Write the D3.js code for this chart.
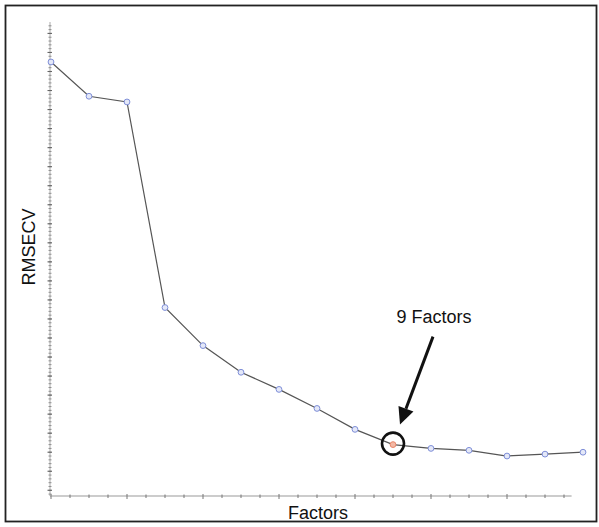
<!DOCTYPE html>
<html>
<head>
<meta charset="utf-8">
<script src="https://cdn.jsdelivr.net/npm/d3@7"></script>
<style>
  html, body { margin: 0; padding: 0; background: #fff; }
  svg { display: block; }
  text { font-family: "Liberation Sans", Arial, sans-serif; fill: #111; }
</style>
</head>
<body>
<svg id="chart" width="599" height="527"></svg>
<script>
// Number of PLS factors and the cross-validated error for each model size
const factors = [0, 1, 2, 3, 4, 5, 6, 7, 8, 9, 10, 11, 12, 13, 14];
const rmsecv = [2.85, 2.67, 2.64, 1.56, 1.36, 1.22, 1.13, 1.03, 0.92, 0.84, 0.82, 0.81, 0.78, 0.79, 0.80];
const chosenFactors = [9];
const xLabel = ["Factors"];
const yLabel = ["RMSECV"];
const calloutText = ["9 Factors"];

const svg = d3.select("#chart");

// outer frame
svg.append("rect")
  .attr("x", 5.5).attr("y", 5.5)
  .attr("width", 591).attr("height", 516)
  .attr("fill", "none").attr("stroke", "#222").attr("stroke-width", 1.8);

const x = d3.scaleLinear().domain([0, 14]).range([51, 583]);
const y = d3.scaleLinear().domain([0.57, 3.06]).range([496, 22]);

// x axis (line stops a little short of the last factor)
const xAxisScale = x.copy().domain([0, 13.7]).range([x(0), x(13.7)]);
const xMinor = d3.range(0, 13.6, 0.5);
const gx = svg.append("g").attr("transform", `translate(0,${y.range()[0]})`);
gx.append("line")
  .attr("x1", x(0) - 1).attr("x2", x(13.7))
  .attr("stroke", "#999").attr("stroke-width", 1.2);
gx.selectAll("line.tick").data(xMinor).join("line")
  .attr("class", "tick")
  .attr("x1", d => xAxisScale(d)).attr("x2", d => xAxisScale(d))
  .attr("y1", d => (d % 2 === 0 ? -2 : -1.5))
  .attr("y2", d => (d % 2 === 0 ? 3 : 2))
  .attr("stroke", "#777").attr("stroke-width", 1);

// y axis with dense minor ticks
const yMajor = d3.range(0.6, 3.05, 0.1);
const yMinor = d3.range(0.58, 3.05, 0.02);
const gy = svg.append("g").attr("transform", `translate(${x(0) - 1},0)`);
gy.append("line")
  .attr("y1", y.range()[0]).attr("y2", y.range()[1])
  .attr("stroke", "#aaa").attr("stroke-width", 1);
gy.selectAll("line.minor").data(yMinor).join("line")
  .attr("class", "minor")
  .attr("y1", d => y(d)).attr("y2", d => y(d))
  .attr("x1", -1.5).attr("x2", 1.5)
  .attr("stroke", "#888").attr("stroke-width", 0.9);
gy.selectAll("line.major").data(yMajor).join("line")
  .attr("class", "major")
  .attr("y1", d => y(d)).attr("y2", d => y(d))
  .attr("x1", -2.5).attr("x2", 2)
  .attr("stroke", "#666").attr("stroke-width", 1.1);

// error curve
const pts = factors.map((f, i) => ({ f, v: rmsecv[i] }));
svg.append("path")
  .datum(pts)
  .attr("d", d3.line().x(d => x(d.f)).y(d => y(d.v)))
  .attr("fill", "none").attr("stroke", "#555").attr("stroke-width", 1.2);

svg.selectAll("circle.pt").data(pts).join("circle")
  .attr("class", "pt")
  .attr("cx", d => x(d.f)).attr("cy", d => y(d.v))
  .attr("r", 2.9)
  .attr("fill", d => chosenFactors.includes(d.f) ? "#f3b8a4" : "#e4e8f8")
  .attr("stroke", d => chosenFactors.includes(d.f) ? "#e8866a" : "#7f8fd8")
  .attr("stroke-width", 1);

// highlight ring and arrow pointing at the chosen model
const sel = pts.find(d => d.f === chosenFactors[0]);
const cx = x(sel.f), cy = y(sel.v);
svg.append("circle")
  .attr("cx", cx).attr("cy", cy - 1).attr("r", 11)
  .attr("fill", "none").attr("stroke", "#111").attr("stroke-width", 2.6);

const tip = [cx + 7, cy - 20];
const tail = [cx + 40, cy - 108];
const ang = Math.atan2(tip[1] - tail[1], tip[0] - tail[0]);
const headLen = 17, headHalf = 8;
const base = [tip[0] - headLen * Math.cos(ang), tip[1] - headLen * Math.sin(ang)];
svg.append("line")
  .attr("x1", tail[0]).attr("y1", tail[1])
  .attr("x2", base[0]).attr("y2", base[1])
  .attr("stroke", "#111").attr("stroke-width", 3);
svg.append("polygon")
  .attr("points", [
    tip,
    [base[0] + headHalf * Math.sin(ang), base[1] - headHalf * Math.cos(ang)],
    [base[0] - headHalf * Math.sin(ang), base[1] + headHalf * Math.cos(ang)]
  ].map(p => p.join(",")).join(" "))
  .attr("fill", "#111");

svg.append("text")
  .attr("x", cx + 41).attr("y", cy - 122)
  .attr("text-anchor", "middle")
  .attr("font-size", 18)
  .text(calloutText[0]);

// axis titles
svg.append("text")
  .attr("x", 318).attr("y", 519)
  .attr("text-anchor", "middle")
  .attr("font-size", 18)
  .text(xLabel[0]);

svg.append("text")
  .attr("transform", "translate(35,247) rotate(-90)")
  .attr("text-anchor", "middle")
  .attr("font-size", 18)
  .text(yLabel[0]);
</script>
</body>
</html>
